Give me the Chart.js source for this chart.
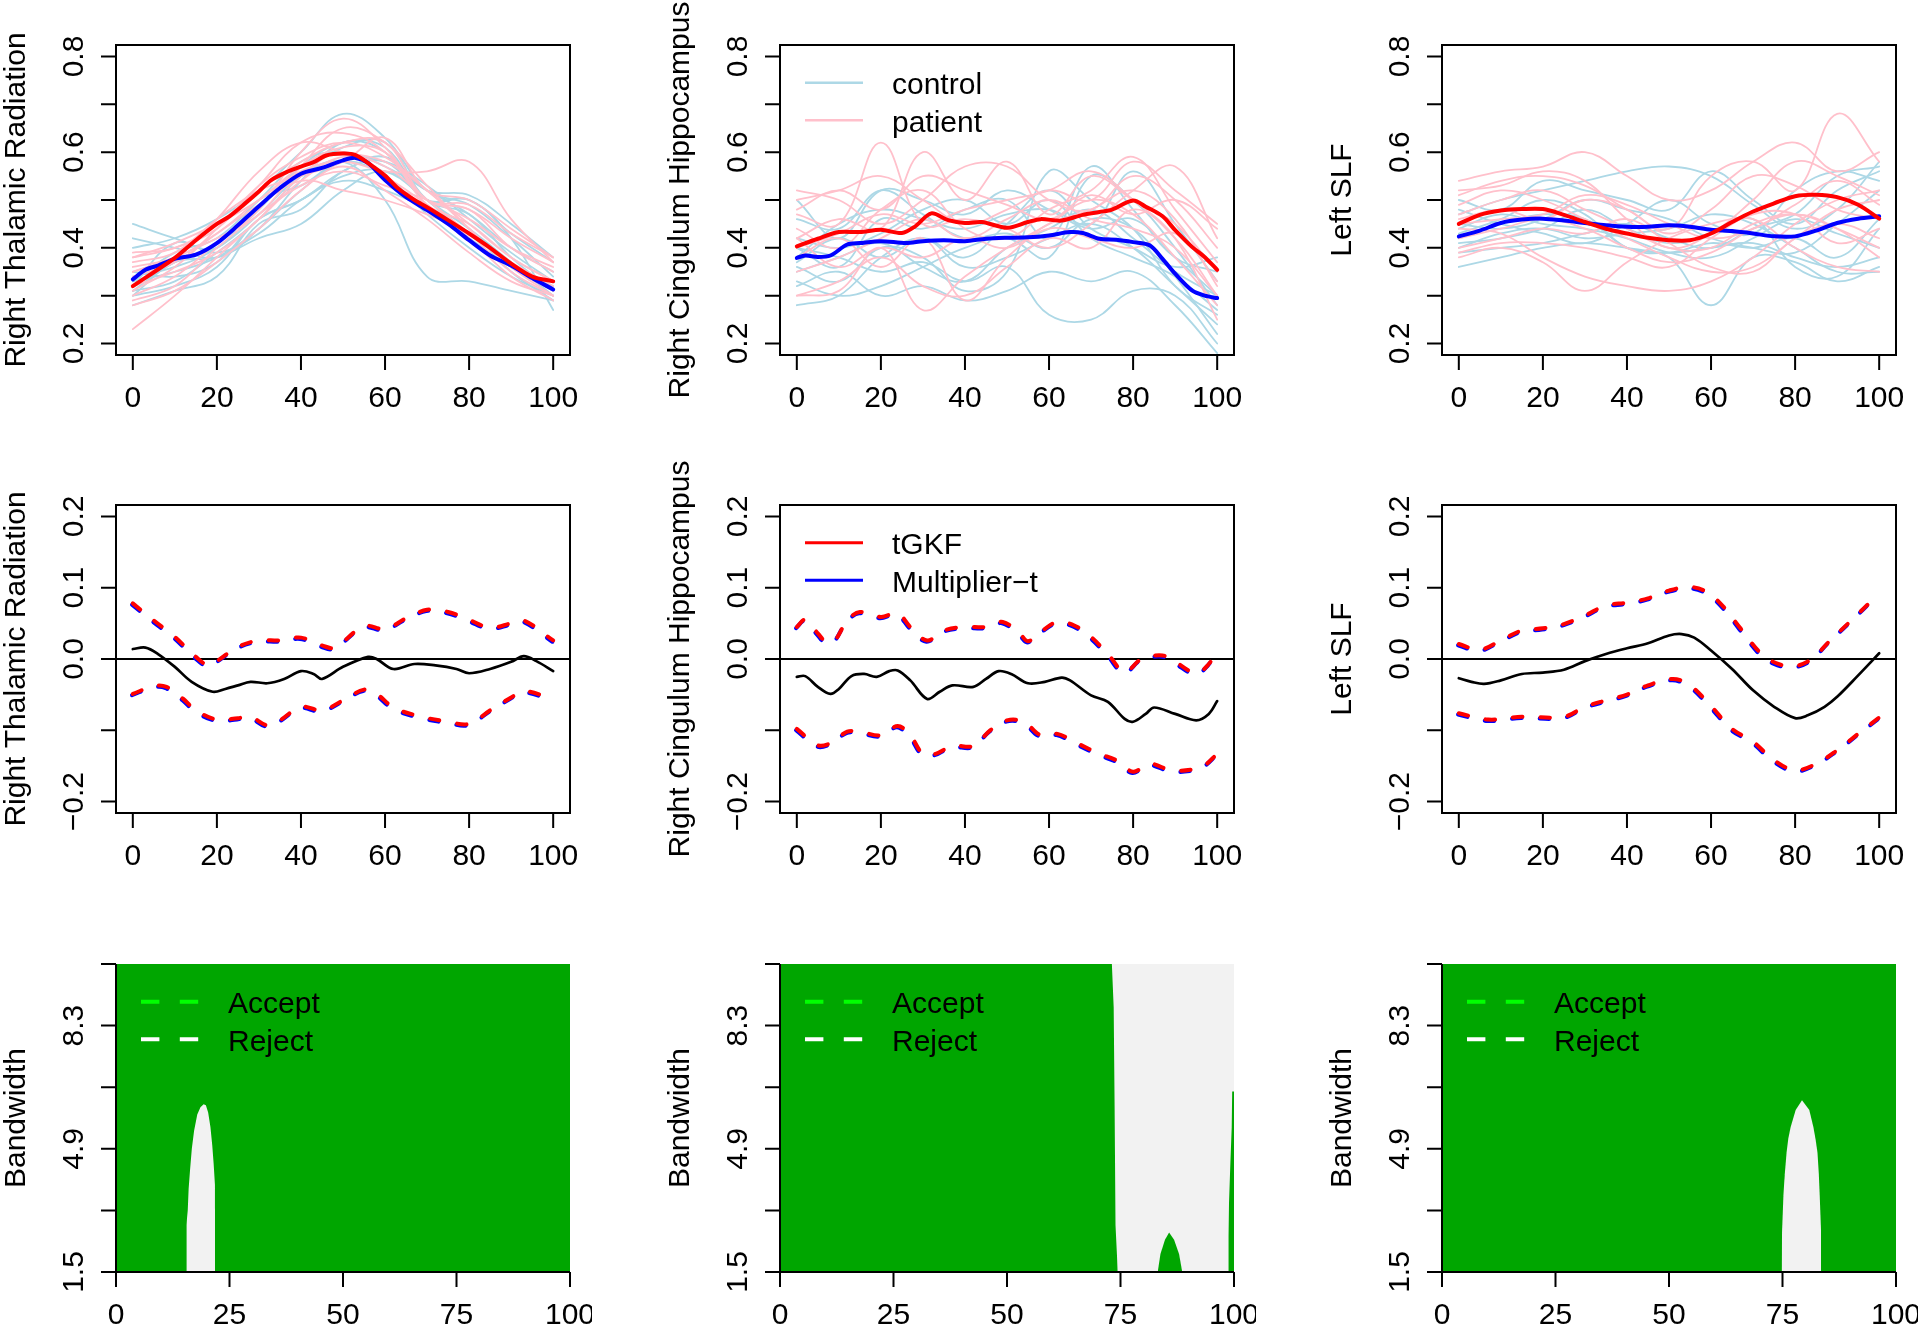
<!DOCTYPE html>
<html>
<head>
<meta charset="utf-8">
<script src="https://cdn.jsdelivr.net/npm/chart.js@4.4.0/dist/chart.umd.min.js"></script>
<style>
  html, body { margin: 0; padding: 0; background: #fff; width: 1920px; height: 1326px; overflow: hidden; }
  canvas { position: absolute; }
</style>
</head>
<body>
<script>
// ---- data ----
const gridX = [0, 10, 20, 30, 40, 50, 60, 70, 80, 90, 100];

// Right Thalamic Radiation: single subjects
const thalamicControl = [
  [0.45, 0.42, 0.40, 0.50, 0.53, 0.58, 0.55, 0.47, 0.40, 0.34, 0.30],
  [0.42, 0.40, 0.38, 0.44, 0.54, 0.62, 0.60, 0.50, 0.44, 0.35, 0.29],
  [0.30, 0.37, 0.38, 0.42, 0.45, 0.52, 0.56, 0.50, 0.42, 0.36, 0.32],
  [0.40, 0.42, 0.46, 0.52, 0.60, 0.68, 0.63, 0.52, 0.49, 0.42, 0.34],
  [0.31, 0.37, 0.40, 0.47, 0.55, 0.58, 0.50, 0.34, 0.33, 0.31, 0.29],
  [0.30, 0.32, 0.36, 0.46, 0.50, 0.55, 0.56, 0.50, 0.44, 0.37, 0.30],
  [0.33, 0.35, 0.38, 0.44, 0.52, 0.58, 0.58, 0.53, 0.46, 0.39, 0.33],
  [0.33, 0.39, 0.42, 0.50, 0.58, 0.60, 0.57, 0.52, 0.47, 0.40, 0.35],
  [0.28, 0.31, 0.34, 0.45, 0.48, 0.56, 0.58, 0.50, 0.50, 0.42, 0.27],
  [0.34, 0.36, 0.40, 0.48, 0.57, 0.62, 0.61, 0.50, 0.50, 0.43, 0.37],
  [0.35, 0.34, 0.37, 0.46, 0.50, 0.56, 0.59, 0.52, 0.51, 0.45, 0.38],
  [0.31, 0.33, 0.39, 0.46, 0.55, 0.61, 0.62, 0.50, 0.47, 0.38, 0.31],
  [0.32, 0.41, 0.39, 0.43, 0.50, 0.54, 0.52, 0.48, 0.42, 0.36, 0.31]
];
const thalamicPatient = [
  [0.23, 0.30, 0.38, 0.46, 0.54, 0.59, 0.57, 0.50, 0.43, 0.35, 0.30],
  [0.38, 0.40, 0.44, 0.53, 0.62, 0.64, 0.60, 0.49, 0.45, 0.38, 0.33],
  [0.35, 0.38, 0.46, 0.56, 0.62, 0.60, 0.58, 0.52, 0.44, 0.36, 0.30],
  [0.30, 0.34, 0.41, 0.48, 0.60, 0.67, 0.61, 0.50, 0.48, 0.40, 0.35],
  [0.36, 0.38, 0.43, 0.50, 0.56, 0.58, 0.56, 0.56, 0.58, 0.46, 0.37],
  [0.29, 0.32, 0.40, 0.47, 0.53, 0.56, 0.53, 0.50, 0.46, 0.40, 0.36],
  [0.39, 0.40, 0.45, 0.52, 0.58, 0.62, 0.62, 0.50, 0.49, 0.43, 0.38],
  [0.32, 0.35, 0.39, 0.46, 0.55, 0.60, 0.55, 0.49, 0.42, 0.34, 0.29],
  [0.37, 0.39, 0.46, 0.52, 0.55, 0.58, 0.63, 0.52, 0.50, 0.44, 0.38],
  [0.28, 0.31, 0.37, 0.44, 0.52, 0.57, 0.52, 0.46, 0.39, 0.33, 0.30],
  [0.34, 0.37, 0.43, 0.49, 0.54, 0.52, 0.50, 0.47, 0.43, 0.37, 0.32],
  [0.31, 0.36, 0.44, 0.53, 0.59, 0.62, 0.59, 0.52, 0.45, 0.38, 0.33],
  [0.35, 0.38, 0.42, 0.47, 0.57, 0.65, 0.62, 0.53, 0.44, 0.36, 0.31],
  [0.38, 0.41, 0.45, 0.50, 0.57, 0.61, 0.60, 0.50, 0.48, 0.42, 0.37]
];
const thalamicPatientMeanX = [0, 5, 10, 15, 20, 23, 27, 30, 33, 37, 40, 43, 46, 50, 53, 56, 60, 63, 67, 70, 75, 80, 85, 90, 95, 100];
const thalamicPatientMean = [0.320, 0.349, 0.379, 0.416, 0.450, 0.466, 0.495, 0.518, 0.542, 0.560, 0.570, 0.579, 0.593, 0.597, 0.594, 0.577, 0.551, 0.525, 0.500, 0.485, 0.458, 0.430, 0.400, 0.367, 0.340, 0.330];
const thalamicControlMeanX = [0, 3, 6, 10, 15, 20, 25, 30, 35, 40, 45, 50, 53, 56, 60, 65, 70, 75, 80, 85, 90, 95, 100];
const thalamicControlMean = [0.334, 0.354, 0.363, 0.377, 0.386, 0.410, 0.447, 0.487, 0.525, 0.555, 0.567, 0.583, 0.588, 0.577, 0.542, 0.506, 0.479, 0.450, 0.416, 0.384, 0.363, 0.337, 0.313];

// Right Cingulum Hippocampus: single subjects
const cingulumControl = [
  [0.28, 0.30, 0.38, 0.42, 0.36, 0.38, 0.42, 0.45, 0.40, 0.32, 0.24],
  [0.50, 0.42, 0.52, 0.50, 0.47, 0.52, 0.48, 0.44, 0.46, 0.38, 0.30],
  [0.36, 0.33, 0.40, 0.38, 0.31, 0.35, 0.56, 0.50, 0.44, 0.32, 0.26],
  [0.40, 0.38, 0.35, 0.37, 0.33, 0.36, 0.26, 0.25, 0.31, 0.30, 0.20],
  [0.33, 0.30, 0.32, 0.36, 0.40, 0.42, 0.38, 0.55, 0.50, 0.40, 0.28],
  [0.38, 0.45, 0.48, 0.46, 0.44, 0.47, 0.48, 0.45, 0.56, 0.45, 0.33],
  [0.42, 0.40, 0.43, 0.48, 0.50, 0.45, 0.50, 0.42, 0.38, 0.34, 0.27],
  [0.35, 0.38, 0.41, 0.36, 0.33, 0.40, 0.44, 0.48, 0.42, 0.35, 0.30],
  [0.46, 0.44, 0.52, 0.47, 0.42, 0.43, 0.40, 0.46, 0.44, 0.34, 0.22],
  [0.32, 0.35, 0.30, 0.32, 0.29, 0.31, 0.35, 0.33, 0.35, 0.28, 0.18],
  [0.40, 0.36, 0.46, 0.44, 0.48, 0.50, 0.42, 0.57, 0.48, 0.38, 0.35],
  [0.37, 0.42, 0.38, 0.42, 0.38, 0.45, 0.52, 0.44, 0.40, 0.36, 0.38]
];
const cingulumPatient = [
  [0.50, 0.52, 0.55, 0.50, 0.45, 0.48, 0.52, 0.50, 0.58, 0.52, 0.45],
  [0.47, 0.45, 0.62, 0.45, 0.46, 0.44, 0.40, 0.45, 0.52, 0.57, 0.42],
  [0.42, 0.46, 0.44, 0.60, 0.50, 0.58, 0.47, 0.55, 0.50, 0.45, 0.35],
  [0.30, 0.33, 0.38, 0.32, 0.30, 0.36, 0.42, 0.40, 0.48, 0.42, 0.30],
  [0.52, 0.50, 0.45, 0.50, 0.57, 0.57, 0.50, 0.48, 0.55, 0.50, 0.40],
  [0.30, 0.31, 0.40, 0.27, 0.34, 0.40, 0.45, 0.50, 0.47, 0.38, 0.28],
  [0.44, 0.40, 0.48, 0.52, 0.44, 0.42, 0.48, 0.52, 0.59, 0.48, 0.37],
  [0.38, 0.42, 0.36, 0.42, 0.29, 0.38, 0.44, 0.42, 0.40, 0.43, 0.33],
  [0.40, 0.43, 0.47, 0.45, 0.48, 0.50, 0.52, 0.56, 0.50, 0.42, 0.25],
  [0.35, 0.38, 0.42, 0.46, 0.42, 0.46, 0.50, 0.46, 0.44, 0.40, 0.30],
  [0.48, 0.52, 0.48, 0.55, 0.52, 0.49, 0.46, 0.51, 0.47, 0.50, 0.44],
  [0.42, 0.36, 0.40, 0.38, 0.42, 0.40, 0.45, 0.48, 0.52, 0.46, 0.32]
];
const cingulumPatientMeanX = [0, 5, 10, 15, 20, 25, 28, 32, 36, 40, 44, 50, 55, 58, 63, 68, 72, 75, 80, 83, 87, 90, 94, 97, 100];
const cingulumPatientMean = [0.403, 0.419, 0.433, 0.433, 0.438, 0.431, 0.444, 0.472, 0.458, 0.452, 0.454, 0.442, 0.454, 0.460, 0.457, 0.469, 0.475, 0.480, 0.499, 0.486, 0.466, 0.437, 0.402, 0.381, 0.354];
const cingulumControlMeanX = [0, 2, 5, 8, 12, 15, 20, 26, 30, 35, 40, 45, 50, 55, 60, 65, 68, 72, 76, 80, 84, 87, 90, 94, 97, 100];
const cingulumControlMean = [0.379, 0.384, 0.381, 0.384, 0.407, 0.410, 0.414, 0.410, 0.414, 0.416, 0.414, 0.419, 0.421, 0.422, 0.426, 0.433, 0.431, 0.419, 0.417, 0.412, 0.405, 0.377, 0.346, 0.311, 0.300, 0.295];

// Left SLF: single subjects
const slfControl = [
  [0.36, 0.38, 0.40, 0.41, 0.40, 0.39, 0.40, 0.41, 0.38, 0.36, 0.38],
  [0.50, 0.48, 0.54, 0.52, 0.50, 0.48, 0.56, 0.50, 0.45, 0.52, 0.56],
  [0.42, 0.45, 0.47, 0.46, 0.40, 0.38, 0.28, 0.38, 0.37, 0.33, 0.36],
  [0.47, 0.50, 0.52, 0.54, 0.56, 0.57, 0.55, 0.49, 0.44, 0.48, 0.58],
  [0.40, 0.43, 0.44, 0.42, 0.43, 0.44, 0.47, 0.45, 0.40, 0.35, 0.35],
  [0.45, 0.44, 0.46, 0.50, 0.48, 0.46, 0.42, 0.40, 0.39, 0.45, 0.52],
  [0.39, 0.40, 0.41, 0.43, 0.45, 0.42, 0.40, 0.44, 0.47, 0.55, 0.57],
  [0.44, 0.47, 0.45, 0.44, 0.42, 0.39, 0.38, 0.42, 0.46, 0.43, 0.40],
  [0.48, 0.45, 0.43, 0.41, 0.45, 0.50, 0.45, 0.43, 0.52, 0.56, 0.54],
  [0.41, 0.42, 0.44, 0.48, 0.44, 0.41, 0.43, 0.46, 0.36, 0.34, 0.44],
  [0.43, 0.46, 0.50, 0.47, 0.40, 0.39, 0.41, 0.40, 0.42, 0.38, 0.46]
];
const slfPatient = [
  [0.54, 0.56, 0.57, 0.60, 0.55, 0.50, 0.52, 0.58, 0.62, 0.56, 0.60],
  [0.51, 0.54, 0.55, 0.53, 0.48, 0.44, 0.55, 0.58, 0.52, 0.68, 0.58],
  [0.38, 0.40, 0.37, 0.31, 0.37, 0.42, 0.45, 0.46, 0.40, 0.36, 0.35],
  [0.47, 0.50, 0.52, 0.48, 0.44, 0.40, 0.40, 0.45, 0.47, 0.44, 0.40],
  [0.44, 0.43, 0.38, 0.34, 0.32, 0.31, 0.33, 0.38, 0.45, 0.50, 0.52],
  [0.49, 0.52, 0.50, 0.46, 0.42, 0.38, 0.35, 0.36, 0.42, 0.48, 0.50],
  [0.42, 0.44, 0.46, 0.44, 0.40, 0.37, 0.39, 0.44, 0.47, 0.44, 0.38],
  [0.46, 0.48, 0.46, 0.50, 0.48, 0.43, 0.48, 0.55, 0.53, 0.48, 0.46],
  [0.40, 0.42, 0.44, 0.43, 0.46, 0.41, 0.36, 0.35, 0.42, 0.45, 0.42],
  [0.52, 0.53, 0.56, 0.54, 0.46, 0.40, 0.43, 0.50, 0.58, 0.55, 0.51],
  [0.39, 0.41, 0.41, 0.40, 0.38, 0.36, 0.42, 0.47, 0.47, 0.41, 0.44],
  [0.45, 0.46, 0.47, 0.51, 0.49, 0.45, 0.42, 0.44, 0.49, 0.54, 0.49]
];
const slfMeanX = [0, 5, 10, 15, 20, 25, 30, 35, 40, 45, 50, 55, 60, 65, 70, 75, 80, 85, 90, 95, 100];
const slfPatientMean = [0.450, 0.469, 0.478, 0.481, 0.481, 0.469, 0.454, 0.440, 0.430, 0.421, 0.416, 0.416, 0.430, 0.454, 0.476, 0.493, 0.508, 0.511, 0.506, 0.490, 0.461];
const slfControlMean = [0.424, 0.436, 0.452, 0.459, 0.461, 0.457, 0.452, 0.447, 0.444, 0.444, 0.447, 0.444, 0.438, 0.435, 0.430, 0.424, 0.424, 0.436, 0.452, 0.461, 0.466];

// difference curves and simultaneous bands (tGKF and Multiplier-t coincide)
const thalamicUpperX = [0, 5, 10, 15, 18, 20, 25, 30, 35, 40, 45, 48, 55, 60, 65, 70, 75, 80, 85, 90, 93, 100];
const thalamicUpper = [0.078, 0.054, 0.031, 0.003, -0.009, -0.003, 0.017, 0.026, 0.026, 0.030, 0.019, 0.016, 0.046, 0.042, 0.057, 0.069, 0.066, 0.055, 0.044, 0.050, 0.054, 0.026];
const thalamicLowerX = [0, 5, 8, 12, 15, 20, 25, 28, 32, 35, 40, 45, 50, 55, 58, 62, 68, 75, 80, 85, 90, 93, 100];
const thalamicLower = [-0.049, -0.038, -0.039, -0.056, -0.072, -0.085, -0.083, -0.081, -0.093, -0.086, -0.067, -0.072, -0.058, -0.043, -0.049, -0.068, -0.080, -0.088, -0.091, -0.072, -0.054, -0.045, -0.056];
const thalamicDiffX = [0, 3, 6, 10, 14, 19, 22, 25, 28, 32, 36, 40, 43, 45, 50, 56, 58, 62, 67, 72, 77, 80, 85, 90, 93, 96, 100];
const thalamicDiff = [0.014, 0.016, 0.007, -0.011, -0.032, -0.046, -0.042, -0.037, -0.032, -0.034, -0.028, -0.017, -0.021, -0.028, -0.011, 0.003, 0.000, -0.014, -0.007, -0.009, -0.014, -0.020, -0.014, -0.004, 0.004, -0.003, -0.017];

const cingulumUpperX = [0, 2, 5, 7, 9, 12, 15, 20, 24, 27, 31, 35, 40, 45, 49, 53, 55, 58, 62, 66, 70, 74, 78, 82, 87, 90, 95, 98, 100];
const cingulumUpper = [0.045, 0.055, 0.036, 0.024, 0.026, 0.054, 0.066, 0.059, 0.064, 0.045, 0.026, 0.040, 0.045, 0.045, 0.052, 0.036, 0.025, 0.038, 0.052, 0.047, 0.031, 0.007, -0.018, 0.000, 0.005, -0.004, -0.020, -0.007, 0.012];
const cingulumLowerX = [0, 5, 8, 12, 15, 20, 24, 27, 30, 33, 37, 42, 46, 50, 54, 58, 62, 67, 72, 76, 80, 84, 89, 94, 97, 100];
const cingulumLower = [-0.098, -0.121, -0.118, -0.102, -0.102, -0.107, -0.094, -0.107, -0.133, -0.133, -0.122, -0.122, -0.100, -0.086, -0.088, -0.107, -0.105, -0.119, -0.133, -0.142, -0.158, -0.147, -0.156, -0.155, -0.149, -0.133];
const cingulumDiffX = [0, 2, 5, 8, 10, 13, 16, 19, 22, 24, 27, 31, 34, 37, 42, 45, 48, 51, 55, 59, 63, 65, 70, 74, 78, 80, 83, 85, 90, 95, 98, 100];
const cingulumDiff = [-0.025, -0.024, -0.039, -0.049, -0.042, -0.024, -0.021, -0.025, -0.017, -0.016, -0.030, -0.056, -0.046, -0.037, -0.039, -0.028, -0.017, -0.021, -0.034, -0.032, -0.026, -0.030, -0.051, -0.060, -0.084, -0.088, -0.077, -0.068, -0.077, -0.086, -0.077, -0.059];

const slfUpperX = [0, 5, 10, 15, 20, 25, 30, 35, 40, 45, 50, 55, 59, 63, 67, 72, 76, 80, 84, 88, 93, 100];
const slfUpper = [0.021, 0.013, 0.026, 0.040, 0.043, 0.049, 0.061, 0.075, 0.079, 0.085, 0.096, 0.101, 0.094, 0.073, 0.043, 0.007, -0.007, -0.010, 0.000, 0.024, 0.052, 0.092];
const slfLowerX = [0, 7, 15, 25, 30, 35, 40, 45, 51, 55, 60, 65, 70, 75, 80, 85, 90, 95, 100];
const slfLower = [-0.076, -0.085, -0.081, -0.081, -0.067, -0.058, -0.050, -0.037, -0.028, -0.037, -0.066, -0.098, -0.116, -0.142, -0.156, -0.147, -0.128, -0.105, -0.082];
const slfDiffX = [0, 3, 6, 10, 15, 20, 25, 30, 35, 40, 45, 50, 53, 56, 60, 65, 70, 75, 80, 83, 87, 90, 95, 100];
const slfDiff = [-0.027, -0.032, -0.035, -0.030, -0.021, -0.019, -0.015, -0.003, 0.007, 0.015, 0.022, 0.033, 0.035, 0.030, 0.012, -0.014, -0.044, -0.067, -0.083, -0.079, -0.067, -0.053, -0.023, 0.008];

// accept / reject regions over (location, bandwidth)
const thalamicRejectX = [15.5, 15.5, 15.8, 16.0, 16.3, 16.7, 17.2, 17.9, 18.6, 19.3, 19.8, 20.3, 20.8, 21.2, 21.5, 21.8, 21.9, 21.9, 21.8];
const thalamicRejectBw = [1.5, 2.8, 3.2, 3.8, 4.3, 4.9, 5.4, 5.85, 6.05, 6.13, 6.1, 5.9, 5.5, 5.0, 4.5, 3.9, 3.3, 2.5, 1.5];
const cingulumAcceptLeftX = [0, 73.1, 73.5, 73.7, 73.9, 74.4];
const cingulumAcceptLeftBw = [10, 10, 8.8, 6.1, 2.8, 1.5];
const cingulumAcceptBumpX = [83.2, 83.8, 84.8, 85.7, 86.8, 87.9, 88.6];
const cingulumAcceptBumpBw = [1.5, 2.0, 2.39, 2.59, 2.39, 2.0, 1.5];
const cingulumAcceptEdgeX = [98.7, 98.8, 98.9, 99.2, 99.5, 99.6, 100];
const cingulumAcceptEdgeBw = [1.5, 2.5, 3.4, 4.5, 5.5, 6.48, 6.48];
const slfRejectX = [74.8, 74.9, 75.2, 75.5, 75.9, 76.3, 76.8, 77.9, 79.3, 80.9, 81.8, 82.3, 82.7, 83.0, 83.2, 83.5, 83.5];
const slfRejectBw = [1.5, 2.6, 3.6, 4.2, 4.8, 5.2, 5.5, 5.97, 6.24, 5.97, 5.5, 5.15, 4.8, 4.2, 3.6, 2.6, 1.5];

// axes
const curveTicks = [0, 20, 40, 60, 80, 100];
const bwTicksX = [0, 25, 50, 75, 100];
const meanTicks = [0.2, 0.3, 0.4, 0.5, 0.6, 0.7, 0.8];
const meanLabels = [0.2, 0.4, 0.6, 0.8];
const diffTicks = [-0.2, -0.1, 0, 0.1, 0.2];
const diffLabels = [-0.2, 0, 0.1, 0.2];
const bwTicks = [1.5, 3.2, 4.9, 6.6, 8.3, 10];
const bwLabels = [1.5, 4.9, 8.3];
const tractNames = ["Right Thalamic Radiation", "Right Cingulum Hippocampus", "Left SLF"];

// ---- drawing ----
const LIGHTBLUE = "#ADD8E6", PINK = "#FFC0CB", RED = "#FF0000", BLUE = "#0000FF";
const GREEN = "#00A600", GREY = "#F2F2F2";
const FONT = '30px "Liberation Sans", Arial, Helvetica, sans-serif';
const boxLeft = [116, 780, 1442];
const boxTop = [45, 505, 964];
const boxH = [310, 308, 308];
const BOX_W = 454;

const pts = (xs, ys) => xs.map((x, i) => ({ x: x, y: ys[i] }));
const fmt = v => (v < 0 ? "\u2212" : "") + Math.abs(v).toFixed(1);

function line(data, color, width, tension, extra) {
    return Object.assign({
        data: data,
        borderColor: color,
        borderWidth: width,
        tension: tension,
        pointRadius: 0,
        fill: false,
        borderCapStyle: "round",
        borderJoinStyle: "round",
    }, extra || {});
}

function patch(xs, bws, color) {
    return {
        data: pts(xs, bws),
        borderColor: "rgba(0,0,0,0)",
        borderWidth: 0,
        backgroundColor: color,
        fill: "start",
        tension: 0,
        pointRadius: 0,
    };
}

function rotText(ctx, s, x, y) {
    ctx.save();
    ctx.translate(x, y);
    ctx.rotate(-Math.PI / 2);
    ctx.fillText(s, 0, 0);
    ctx.restore();
}

function rAxes(cfg) {
    return {
        id: "rAxes",
        beforeDatasetsDraw(chart) {
            const { ctx, chartArea: a, scales: { y } } = chart;
            ctx.save();
            if (cfg.bg) {
                ctx.fillStyle = cfg.bg;
                ctx.fillRect(a.left, a.top, a.right - a.left, a.bottom - a.top);
            }
            if (cfg.zeroLine) {
                const py = y.getPixelForValue(0);
                ctx.strokeStyle = "#000";
                ctx.lineWidth = 2.2;
                ctx.beginPath();
                ctx.moveTo(a.left, py);
                ctx.lineTo(a.right, py);
                ctx.stroke();
            }
            ctx.restore();
        },
        beforeDatasetDraw(chart, args) {
            const s = chart.data.datasets[args.index].shift;
            if (s) { chart.ctx.save(); chart.ctx.translate(s[0], s[1]); }
        },
        afterDatasetDraw(chart, args) {
            if (chart.data.datasets[args.index].shift) chart.ctx.restore();
        },
        afterDraw(chart) {
            const { ctx, chartArea: a, scales: { x, y } } = chart;
            ctx.save();
            ctx.strokeStyle = "#000";
            ctx.lineWidth = 2;
            ctx.setLineDash([]);
            if (cfg.box) {
                ctx.strokeRect(a.left, a.top, a.right - a.left, a.bottom - a.top);
            } else {
                ctx.beginPath();
                ctx.moveTo(x.getPixelForValue(cfg.xTicks[0]), a.bottom);
                ctx.lineTo(x.getPixelForValue(cfg.xTicks[cfg.xTicks.length - 1]), a.bottom);
                ctx.moveTo(a.left, y.getPixelForValue(cfg.yTicks[0]));
                ctx.lineTo(a.left, y.getPixelForValue(cfg.yTicks[cfg.yTicks.length - 1]));
                ctx.stroke();
            }
            ctx.beginPath();
            cfg.xTicks.forEach(v => {
                const px = x.getPixelForValue(v);
                ctx.moveTo(px, a.bottom);
                ctx.lineTo(px, a.bottom + 15);
            });
            cfg.yTicks.forEach(v => {
                const py = y.getPixelForValue(v);
                ctx.moveTo(a.left, py);
                ctx.lineTo(a.left - 15, py);
            });
            ctx.stroke();

            ctx.fillStyle = "#000";
            ctx.font = FONT;
            ctx.textAlign = "center";
            ctx.textBaseline = "alphabetic";
            cfg.xTicks.forEach(v => ctx.fillText(String(v), x.getPixelForValue(v), a.bottom + 52));
            cfg.yLabels.forEach(v => rotText(ctx, fmt(v), a.left - 33, y.getPixelForValue(v)));
            rotText(ctx, cfg.title, a.left - 91, (a.top + a.bottom) / 2);

            if (cfg.legend) {
                cfg.legend.forEach((it, i) => {
                    const ly = a.top + 37.7 + i * 37.5;
                    ctx.strokeStyle = it.color;
                    ctx.lineWidth = it.width;
                    ctx.setLineDash(it.dash || []);
                    ctx.beginPath();
                    ctx.moveTo(a.left + 25, ly);
                    ctx.lineTo(a.left + 83, ly);
                    ctx.stroke();
                    ctx.setLineDash([]);
                    ctx.textAlign = "left";
                    ctx.fillText(it.label, a.left + 112, ly + 11.5);
                });
            }
            ctx.restore();
        },
    };
}

function makePanel(col, row, datasets, xr, yr, cfg) {
    const canvas = document.createElement("canvas");
    const w = 116 + BOX_W + 22;
    const h = 45 + boxH[row] + 62;
    canvas.width = w;
    canvas.height = h;
    canvas.style.width = w + "px";
    canvas.style.height = h + "px";
    canvas.style.left = (boxLeft[col] - 116) + "px";
    canvas.style.top = (boxTop[row] - 45) + "px";
    document.body.appendChild(canvas);

    new Chart(canvas, {
        type: "line",
        data: { datasets: datasets },
        options: {
            responsive: false,
            animation: false,
            devicePixelRatio: 1,
            events: [],
            layout: { padding: { left: 116, top: 45, right: 22, bottom: 62 } },
            scales: {
                x: { type: "linear", min: xr[0], max: xr[1], display: false },
                y: { type: "linear", min: yr[0], max: yr[1], display: false },
            },
            plugins: { legend: { display: false }, tooltip: { enabled: false } },
        },
        plugins: [rAxes(cfg)],
    });
}

function meanPanel(controls, patients, cX, cMean, pX, pMean) {
    const ds = [];
    controls.forEach(c => ds.push(line(pts(gridX, c), LIGHTBLUE, 1.8, 0.4)));
    patients.forEach(p => ds.push(line(pts(gridX, p), PINK, 1.8, 0.4)));
    ds.push(line(pts(cX, cMean), BLUE, 4, 0.3));
    ds.push(line(pts(pX, pMean), RED, 4, 0.3));
    return ds.reverse(); // first dataset is drawn on top
}

function diffPanel(uX, u, lX, l, dX, d) {
    const dash = { borderDash: [9.5, 18], tension: 0.35 };
    const ds = [
        line(pts(uX, u), BLUE, 4, 0.35, Object.assign({ shift: [-0.8, 1.3] }, dash)),
        line(pts(lX, l), BLUE, 4, 0.35, Object.assign({ shift: [-0.8, 1.3] }, dash)),
        line(pts(uX, u), RED, 4, 0.35, dash),
        line(pts(lX, l), RED, 4, 0.35, dash),
        line(pts(dX, d), "#000", 2.7, 0.35),
    ];
    return ds.reverse();
}

document.addEventListener("DOMContentLoaded", () => {
    if (typeof Chart === "undefined") return;

    const meanY = [0.176, 0.824];
    const diffY = [-0.216, 0.216];
    const curveX = [-4, 104];
    const meanLegend = [
        { label: "control", color: LIGHTBLUE, width: 2.5 },
        { label: "patient", color: PINK, width: 2.5 },
    ];
    const diffLegend = [
        { label: "tGKF", color: RED, width: 3 },
        { label: "Multiplier\u2212t", color: BLUE, width: 3 },
    ];
    const bwLegend = [
        { label: "Accept", color: "#00FF00", width: 4, dash: [18.4, 20.4] },
        { label: "Reject", color: "#FFFFFF", width: 4, dash: [18.4, 20.4] },
    ];

    const meanCfg = (i, legend) => ({ box: true, xTicks: curveTicks, yTicks: meanTicks, yLabels: meanLabels, title: tractNames[i], legend: legend });
    const diffCfg = (i, legend) => ({ box: true, zeroLine: true, xTicks: curveTicks, yTicks: diffTicks, yLabels: diffLabels, title: tractNames[i], legend: legend });
    const bwCfg = bg => ({ box: false, bg: bg, xTicks: bwTicksX, yTicks: bwTicks, yLabels: bwLabels, title: "Bandwidth", legend: bwLegend });

    // row 1: subject curves and group means
    makePanel(0, 0, meanPanel(thalamicControl, thalamicPatient, thalamicControlMeanX, thalamicControlMean, thalamicPatientMeanX, thalamicPatientMean), curveX, meanY, meanCfg(0));
    makePanel(1, 0, meanPanel(cingulumControl, cingulumPatient, cingulumControlMeanX, cingulumControlMean, cingulumPatientMeanX, cingulumPatientMean), curveX, meanY, meanCfg(1, meanLegend));
    makePanel(2, 0, meanPanel(slfControl, slfPatient, slfMeanX, slfControlMean, slfMeanX, slfPatientMean), curveX, meanY, meanCfg(2));

    // row 2: mean difference with simultaneous bands
    makePanel(0, 1, diffPanel(thalamicUpperX, thalamicUpper, thalamicLowerX, thalamicLower, thalamicDiffX, thalamicDiff), curveX, diffY, diffCfg(0));
    makePanel(1, 1, diffPanel(cingulumUpperX, cingulumUpper, cingulumLowerX, cingulumLower, cingulumDiffX, cingulumDiff), curveX, diffY, diffCfg(1, diffLegend));
    makePanel(2, 1, diffPanel(slfUpperX, slfUpper, slfLowerX, slfLower, slfDiffX, slfDiff), curveX, diffY, diffCfg(2));

    // row 3: accept / reject over bandwidths
    makePanel(0, 2, [patch(thalamicRejectX, thalamicRejectBw, GREY)], [0, 100], [1.5, 10], bwCfg(GREEN));
    makePanel(1, 2, [
        patch(cingulumAcceptLeftX, cingulumAcceptLeftBw, GREEN),
        patch(cingulumAcceptBumpX, cingulumAcceptBumpBw, GREEN),
        patch(cingulumAcceptEdgeX, cingulumAcceptEdgeBw, GREEN),
    ], [0, 100], [1.5, 10], bwCfg(GREY));
    makePanel(2, 2, [patch(slfRejectX, slfRejectBw, GREY)], [0, 100], [1.5, 10], bwCfg(GREEN));
});
</script>
</body>
</html>
